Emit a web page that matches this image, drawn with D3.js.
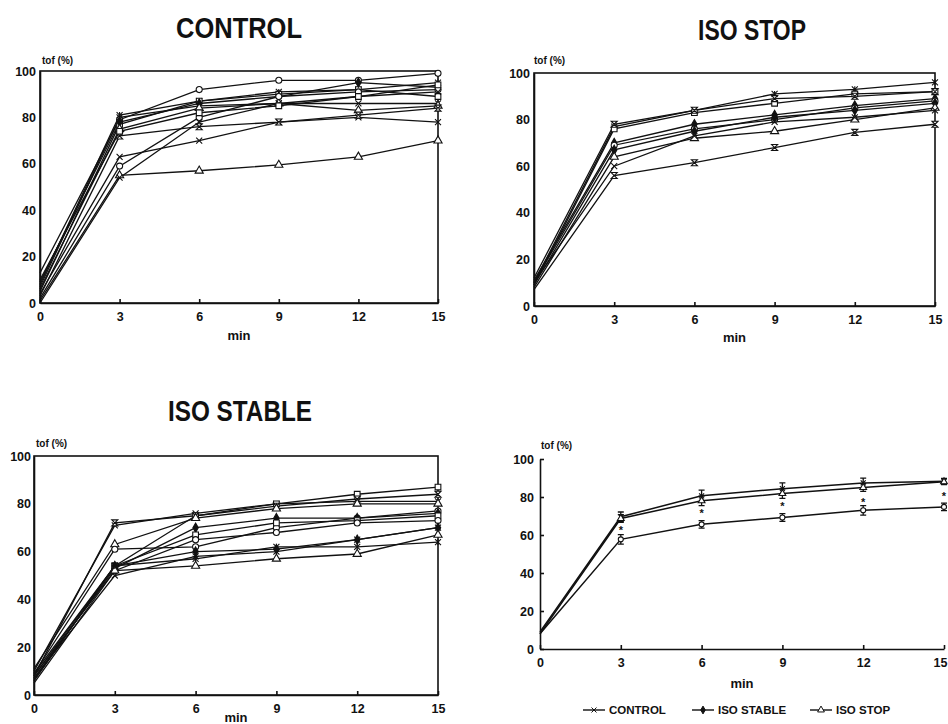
<!DOCTYPE html>
<html>
<head>
<meta charset="utf-8">
<script src="https://cdn.jsdelivr.net/npm/d3@7"></script>
<style>
  html, body { margin: 0; padding: 0; background: #fff; }
  svg { display: block; }
  .tick text { font-family: "Liberation Sans", Arial, sans-serif; font-weight: bold; font-size: 12.5px; fill: #111; }
  .domain, .tick line { stroke: #111; stroke-width: 1.6px; }
</style>
</head>
<body>
<svg id="chart" width="948" height="724"></svg>
<script>
// ---------------- DATA ----------------
const minutes = [0, 3, 6, 9, 12, 15];
const yTicks = [0, 20, 40, 60, 80, 100];
const panelTitles = ["CONTROL", "ISO STOP", "ISO STABLE"];
const yLabel = "tof (%)";
const xLabel = "min";

// individual patients, CONTROL
const controlSeries = [
  [13, 79, 92, 96, 96, 99],
  [8, 81, 87, 91, 92, 95],
  [5, 77, 87, 90, 92, 89],
  [9, 78, 86, 89, 95, 93],
  [7, 80, 85, 86, 86, 86],
  [6, 75, 84, 86, 83, 85],
  [4, 63, 70, 78, 80, 78],
  [3, 72, 76, 78, 81, 84],
  [2, 59, 80, 89, 91, 92],
  [1, 55, 57, 59.5, 63, 70],
  [0, 54, 78, 86, 89, 91],
  [10, 74, 82, 85, 89, 94]
];
const controlMarkers = ["circle", "star", "square", "diamondFilled", "x", "triangle", "x", "hourglass", "circle", "triangle", "x", "square"];

// individual patients, ISO STOP
const isoStopSeries = [
  [10, 77, 84, 91, 93, 96],
  [9, 76, 83, 87, 91, 92],
  [12, 78, 84, 89, 90, 92],
  [11, 70, 78, 82, 86, 89],
  [10, 69, 76, 80, 85, 88],
  [9, 67, 75, 81, 84, 87],
  [8, 64, 72, 75, 80, 85],
  [10, 60, 73, 79, 81, 84],
  [7, 56, 61.5, 68, 74.5, 78]
];
const isoStopMarkers = ["star", "square", "hourglass", "diamondFilled", "circle", "diamondFilled", "triangle", "x", "hourglass"];

// individual patients, ISO STABLE
const isoStableSeries = [
  [10, 71, 76, 80, 81, 81],
  [6, 54, 75, 80, 84, 87],
  [8, 72, 75, 79, 82, 84],
  [11, 63, 74, 78, 80, 80],
  [9, 61, 62, 70, 74, 77],
  [7, 53, 70, 74, 74, 76],
  [8, 54, 67, 72, 73, 75],
  [5, 52, 65, 68, 72, 73],
  [9, 54, 60, 61, 65, 70],
  [7, 50, 58, 60, 65, 70],
  [8, 52, 54, 57, 59, 67],
  [6, 54, 57, 62, 62, 64]
];
const isoStableMarkers = ["x", "square", "hourglass", "triangle", "circle", "diamondFilled", "square", "circle", "diamondFilled", "x", "triangle", "star"];

// group means (bottom-right panel)
const legendNames = ["CONTROL", "ISO STABLE", "ISO STOP"];
const meanControl = [9, 69.6, 80.6, 84.4, 87.4, 88.3];
const errControl = [1.5, 2.5, 3, 3, 2.5, 1.5];
const meanIsoStop = [8, 68.7, 78, 81.8, 85, 88];
const errIsoStop = [1.5, 2, 2.5, 2.5, 2, 1.5];
const meanIsoStable = [8, 57.7, 65.6, 69.2, 73, 74.8];
const errIsoStable = [1.5, 2.5, 2, 2, 2.5, 2];
const significanceY = [null, 62.9, 72.2, 75.7, 78, 81.3];

// ---------------- LAYOUT ----------------
const svg = d3.select("#chart");
const ink = "#111";

const panels = [
  { series: controlSeries,   markers: controlMarkers,   x0: 40,  x1: 438, yT: 71,  yB: 303, box: true,  title: panelTitles[0], tx: 239, ty: 38,  tw: 126, lab: [42, 64],  minY: 340, ypad: 4 },
  { series: isoStopSeries,   markers: isoStopMarkers,   x0: 534, x1: 935, yT: 73,  yB: 306, box: true,  title: panelTitles[1], tx: 752, ty: 40,  tw: 108, lab: [534, 64], minY: 342, ypad: 4 },
  { series: isoStableSeries, markers: isoStableMarkers, x0: 34,  x1: 438, yT: 456, yB: 695, box: true,  title: panelTitles[2], tx: 240, ty: 421, tw: 144, lab: [36, 447], minY: 722, ypad: 3 },
  { series: null,            markers: null,             x0: 540, x1: 944, yT: 459, yB: 649, box: false, title: null,           lab: [541, 449], minY: 688, ypad: 6 }
];

function markerPath(type, s) {
  switch (type) {
    case "circle": case "circleFilled": return d3.symbol(d3.symbolCircle, s * s * 0.8)();
    case "square": return d3.symbol(d3.symbolSquare, s * s * 0.9)();
    case "triangle": return d3.symbol(d3.symbolTriangle, s * s * 0.8)();
    case "diamondFilled": return d3.symbol(d3.symbolDiamond, s * s * 0.7)();
    case "x": { const h = s / 2; return `M${-h},${-h}L${h},${h}M${-h},${h}L${h},${-h}`; }
    case "star": { const h = s / 2; return `M${-h},${-h}L${h},${h}M${-h},${h}L${h},${-h}M0,${-h}L0,${h}`; }
    case "hourglass": { const h = s / 2; return `M${-h},${-h}H${h}L${-h},${h}H${h}Z`; }
  }
  return "";
}
function isFilled(type) { return type === "diamondFilled" || type === "circleFilled"; }

panels.forEach((p, pi) => {
  const x = d3.scaleLinear().domain([0, 15]).range([p.x0, p.x1]);
  const y = d3.scaleLinear().domain([0, 100]).range([p.yB, p.yT]);
  const g = svg.append("g");

  if (p.box) {
    g.append("rect").attr("x", p.x0).attr("y", p.yT)
      .attr("width", p.x1 - p.x0).attr("height", p.yB - p.yT)
      .attr("fill", "none").attr("stroke", ink).attr("stroke-width", 1.6);
  }

  const xAxis = d3.axisBottom(x).tickValues(minutes).tickFormat(d3.format("d"))
    .tickSizeInner(-4).tickSizeOuter(0).tickPadding(9);
  const xg = g.append("g").attr("transform", `translate(0,${p.yB})`).call(xAxis);
  if (pi === 3) {
    xg.selectAll(".tick text").filter(d => d === 15).attr("dx", -4);
  }
  const yAxis = d3.axisLeft(y).tickValues(yTicks).tickFormat(d3.format("d"))
    .tickSizeInner(pi === 3 ? -4 : 0).tickSizeOuter(0).tickPadding(p.ypad);
  g.append("g").attr("transform", `translate(${p.x0},0)`).call(yAxis);

  g.append("text").attr("x", p.lab[0]).attr("y", p.lab[1])
    .attr("font-family", "Liberation Sans, Arial, sans-serif").attr("font-weight", "bold")
    .attr("font-size", 10).attr("fill", ink).text(yLabel);
  g.append("text").attr("x", (p.x0 + p.x1) / 2).attr("y", p.minY)
    .attr("text-anchor", "middle")
    .attr("font-family", "Liberation Sans, Arial, sans-serif").attr("font-weight", "bold")
    .attr("font-size", 13).attr("fill", ink).text(xLabel);

  if (p.title) {
    svg.append("text").attr("x", p.tx).attr("y", p.ty).attr("text-anchor", "middle")
      .attr("font-family", "Liberation Sans, Arial, sans-serif")
      .attr("font-weight", "bold").attr("font-size", 29).attr("fill", ink)
      .attr("textLength", p.tw).attr("lengthAdjust", "spacingAndGlyphs")
      .text(p.title);
  }

  const line = d3.line().x((d, i) => x(minutes[i])).y(d => y(d));

  if (p.series) {
    p.series.forEach(s => {
      g.append("path").datum(s).attr("d", line)
        .attr("fill", "none").attr("stroke", ink).attr("stroke-width", 1.3);
    });
    p.series.forEach((s, si) => {
      const type = p.markers[si % p.markers.length];
      g.selectAll(null).data(s.slice(1)).enter().append("path")
        .attr("transform", (d, i) => `translate(${x(minutes[i + 1])},${y(d)})`)
        .attr("d", markerPath(type, 6))
        .attr("fill", isFilled(type) ? ink : "#fff")
        .attr("stroke", ink).attr("stroke-width", 1.1);
    });
  } else {
    const groups = [
      { m: meanControl, e: errControl, type: "x" },
      { m: meanIsoStop, e: errIsoStop, type: "triangle" },
      { m: meanIsoStable, e: errIsoStable, type: "circle" }
    ];
    groups.forEach(gr => {
      g.append("path").datum(gr.m).attr("d", line)
        .attr("fill", "none").attr("stroke", ink).attr("stroke-width", 1.5);
      gr.m.forEach((v, i) => {
        if (i === 0) return;
        const cx = x(minutes[i]);
        g.append("path")
          .attr("d", `M${cx},${y(v - gr.e[i])}V${y(v + gr.e[i])}M${cx - 3},${y(v - gr.e[i])}H${cx + 3}M${cx - 3},${y(v + gr.e[i])}H${cx + 3}`)
          .attr("stroke", ink).attr("stroke-width", 1.3).attr("fill", "none");
        g.append("path").attr("transform", `translate(${cx},${y(v)})`)
          .attr("d", markerPath(gr.type, 5)).attr("fill", "#fff")
          .attr("stroke", ink).attr("stroke-width", 1.1);
      });
    });
    significanceY.forEach((v, i) => {
      if (v == null) return;
      g.append("text").attr("x", x(minutes[i])).attr("y", y(v) + 5)
        .attr("text-anchor", "middle").attr("font-family", "Liberation Sans, Arial, sans-serif")
        .attr("font-weight", "bold").attr("font-size", 11).attr("fill", ink).text("*");
    });

    const legX = [583, 692, 810];
    const legTypes = ["x", "diamondFilled", "triangle"];
    legendNames.forEach((name, i) => {
      const lg = svg.append("g").attr("transform", `translate(${legX[i]},714)`);
      lg.append("line").attr("x1", 0).attr("x2", 22).attr("y1", -4).attr("y2", -4)
        .attr("stroke", ink).attr("stroke-width", 1.4);
      lg.append("path").attr("transform", "translate(11,-4)").attr("d", markerPath(legTypes[i], 5))
        .attr("fill", legTypes[i] === "diamondFilled" ? ink : "#fff").attr("stroke", ink).attr("stroke-width", 1);
      lg.append("text").attr("x", 26).attr("y", 0)
        .attr("font-family", "Liberation Sans, Arial, sans-serif").attr("font-weight", "bold")
        .attr("font-size", 11.5).attr("fill", ink).text(name);
    });
  }
});
</script>
</body>
</html>
